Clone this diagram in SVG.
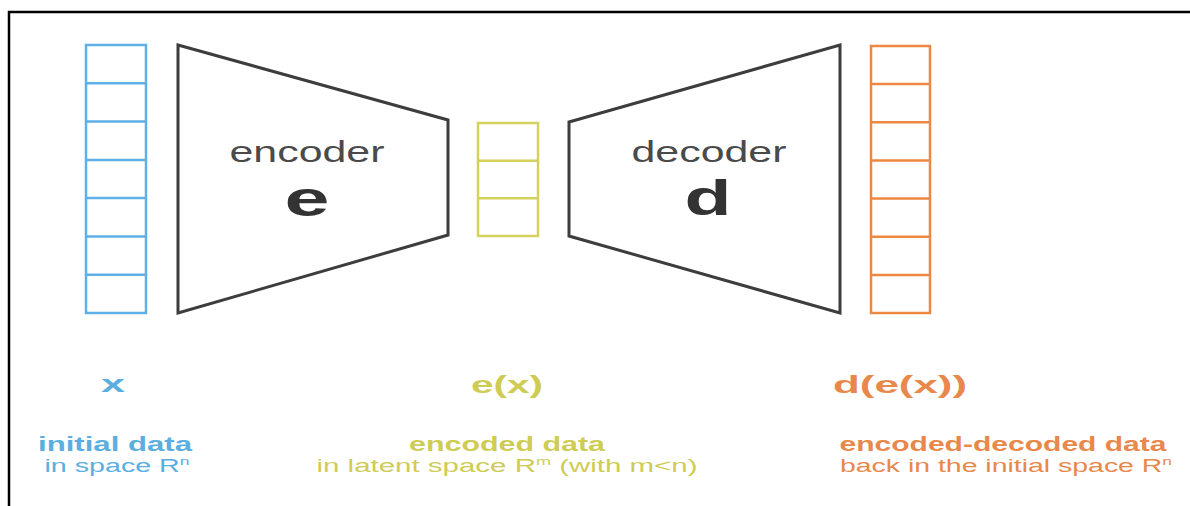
<svg xmlns="http://www.w3.org/2000/svg" width="1190" height="506" viewBox="0 0 1190 506">
  <style>
    .frame { fill: none; stroke: #000; stroke-width: 2.5; }
    .cell { fill: #fff; stroke-width: 2.5; }
    .blue { stroke: #5fb0e6; }
    .yellow { stroke: #d4d25c; }
    .orange { stroke: #ee8840; }
    .trap { fill: #fff; stroke: #3d3d3d; stroke-width: 3; stroke-linejoin: miter; }
    text { font-family: "Liberation Sans", "Open Sans", sans-serif; text-anchor: middle; }
    .name { font-size: 29px; fill: #4a4a4a; }
    .sym { font-size: 50px; font-weight: bold; fill: #333; }
    .lbl { font-size: 24px; font-weight: bold; }
    .cap { font-size: 21px; font-weight: bold; }
    .sub { font-size: 18px; }
    .tb { fill: #5aaee0; }
    .ty { fill: #cfcc55; }
    .to { fill: #e8884a; }
  </style>

  <!-- outer frame: top and left edges -->
  <path class="frame" d="M9,506 V12 H1190"/>

  <!-- input vector x -->
  <g id="input-x">
    <rect class="cell blue" x="86" y="45" width="60" height="268"/>
    <path class="blue" stroke-width="2.5" fill="none" d="M86,83.3 H146 M86,121.6 H146 M86,159.9 H146 M86,198.1 H146 M86,236.4 H146 M86,274.7 H146"/>
  </g>

  <!-- encoder -->
  <g id="encoder">
    <polygon class="trap" points="178,45 448,120 448,235 178,313"/>
    <text class="name" x="307" y="162" textLength="155" lengthAdjust="spacingAndGlyphs">encoder</text>
    <text class="sym" x="307" y="216" textLength="45" lengthAdjust="spacingAndGlyphs">e</text>
  </g>

  <!-- latent code e(x) -->
  <g id="latent">
    <rect class="cell yellow" x="478" y="123" width="60" height="113"/>
    <path class="yellow" stroke-width="2.5" fill="none" d="M478,160.7 H538 M478,198.3 H538"/>
  </g>

  <!-- decoder -->
  <g id="decoder">
    <polygon class="trap" points="569,122 840,45 840,313 569,236"/>
    <text class="name" x="709" y="162" textLength="155" lengthAdjust="spacingAndGlyphs">decoder</text>
    <text class="sym" x="708" y="215" textLength="47" lengthAdjust="spacingAndGlyphs">d</text>
  </g>

  <!-- output vector d(e(x)) -->
  <g id="output">
    <rect class="cell orange" x="871" y="46" width="59" height="267"/>
    <path class="orange" stroke-width="2.5" fill="none" d="M871,84.1 H930 M871,122.3 H930 M871,160.4 H930 M871,198.6 H930 M871,236.7 H930 M871,274.9 H930"/>
  </g>

  <!-- captions -->
  <g id="caption-input">
    <text class="lbl tb" x="113" y="392" textLength="24" lengthAdjust="spacingAndGlyphs">x</text>
    <text class="cap tb" x="115" y="451" textLength="154" lengthAdjust="spacingAndGlyphs">initial data</text>
    <text class="sub tb" x="117" y="472" textLength="145" lengthAdjust="spacingAndGlyphs">in space R<tspan font-size="11" dy="-7">n</tspan></text>
  </g>
  <g id="caption-latent">
    <text class="lbl ty" x="507" y="393" textLength="72" lengthAdjust="spacingAndGlyphs">e(x)</text>
    <text class="cap ty" x="507" y="451" textLength="196" lengthAdjust="spacingAndGlyphs">encoded data</text>
    <text class="sub ty" x="507" y="472" textLength="381" lengthAdjust="spacingAndGlyphs">in latent space R<tspan font-size="11" dy="-7">m</tspan><tspan dy="7"> (with m&lt;n)</tspan></text>
  </g>
  <g id="caption-output">
    <text class="lbl to" x="900" y="393" textLength="134" lengthAdjust="spacingAndGlyphs">d(e(x))</text>
    <text class="cap to" x="1003" y="451" textLength="327" lengthAdjust="spacingAndGlyphs">encoded-decoded data</text>
    <text class="sub to" x="1006" y="472" textLength="332" lengthAdjust="spacingAndGlyphs">back in the initial space R<tspan font-size="11" dy="-7">n</tspan></text>
  </g>
</svg>
